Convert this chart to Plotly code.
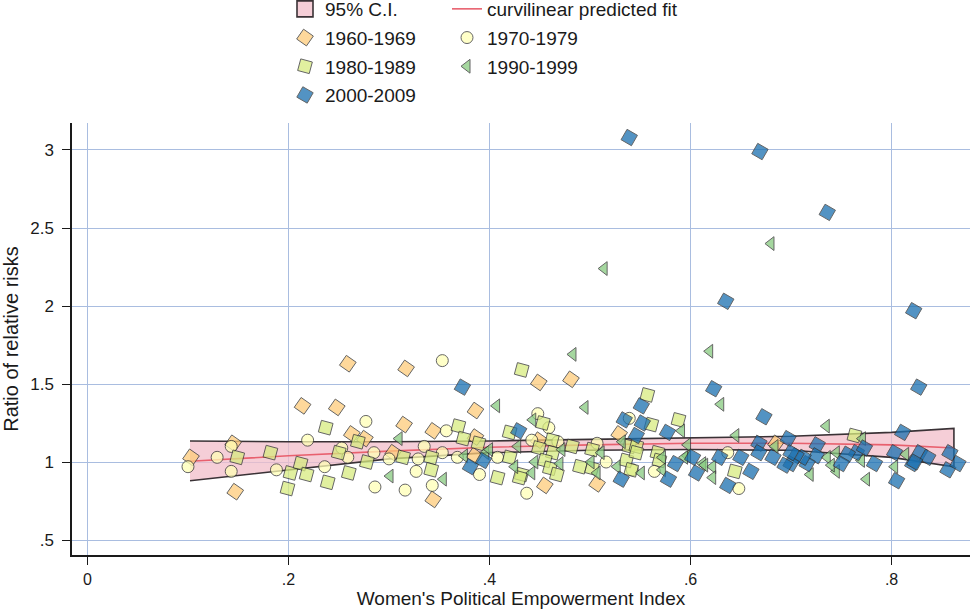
import plotly.graph_objects as go

# ---------------- data ----------------
ci_x = [0.102, 0.2, 0.3, 0.4, 0.5, 0.6, 0.7, 0.8, 0.862]
ci_upper = [1.135, 1.13, 1.13, 1.135, 1.145, 1.155, 1.165, 1.19, 1.215]
ci_lower = [0.88, 0.95, 1.02, 1.06, 1.075, 1.08, 1.075, 1.03, 0.97]
fit_y = [1.005, 1.04, 1.07, 1.095, 1.11, 1.12, 1.12, 1.11, 1.09]

x_1960 = [0.103, 0.145, 0.147, 0.214, 0.248, 0.263, 0.259, 0.317, 0.315, 0.344, 0.386, 0.276,
          0.304, 0.344, 0.386, 0.385, 0.449, 0.481, 0.449, 0.455, 0.507, 0.529, 0.685]
y_1960 = [1.03, 1.12, 0.81, 1.36, 1.35, 1.18, 1.63, 1.60, 1.24, 1.20, 1.33, 1.15,
          1.06, 0.76, 1.16, 1.04, 1.51, 1.53, 1.14, 0.85, 0.86, 1.18, 1.12]

x_1970 = [0.100, 0.129, 0.143, 0.143, 0.188, 0.219, 0.236, 0.277, 0.353, 0.357, 0.253, 0.259,
          0.285, 0.300, 0.286, 0.316, 0.329, 0.327, 0.335, 0.343, 0.353, 0.368, 0.390, 0.408,
          0.448, 0.459, 0.442, 0.468, 0.437, 0.507, 0.516, 0.539, 0.542, 0.648, 0.637, 0.564]
y_1970 = [0.97, 1.03, 1.10, 0.94, 0.95, 1.14, 0.97, 1.26, 1.65, 1.20, 1.09, 1.03,
          1.06, 1.02, 0.84, 0.82, 1.02, 0.94, 1.10, 0.85, 1.06, 1.03, 0.92, 1.03,
          1.31, 1.22, 1.14, 1.13, 0.80, 1.12, 1.00, 1.28, 0.95, 0.83, 1.06, 0.94]

x_1980 = [0.149, 0.182, 0.202, 0.199, 0.212, 0.218, 0.237, 0.239, 0.250, 0.260, 0.269, 0.278,
          0.314, 0.342, 0.342, 0.369, 0.374, 0.389, 0.408, 0.432, 0.453, 0.420, 0.462, 0.449,
          0.463, 0.482, 0.420, 0.432, 0.430, 0.455, 0.460, 0.467, 0.502, 0.490, 0.502, 0.539,
          0.546, 0.557, 0.536, 0.546, 0.588, 0.561, 0.567, 0.569, 0.541, 0.763, 0.644]
y_1980 = [1.03, 1.06, 0.93, 0.83, 0.99, 0.92, 1.22, 0.87, 1.06, 0.93, 1.13, 1.00,
          1.03, 1.03, 0.95, 1.23, 1.15, 1.12, 0.90, 1.59, 1.25, 1.19, 1.14, 1.09,
          1.06, 1.10, 1.03, 0.92, 0.90, 1.01, 0.96, 0.92, 1.08, 0.97, 0.96, 1.10,
          1.10, 1.43, 1.01, 1.06, 1.27, 1.24, 1.06, 1.01, 0.95, 1.17, 0.94]

x_1990 = [0.310, 0.301, 0.354, 0.396, 0.375, 0.407, 0.400, 0.483, 0.495, 0.443, 0.428, 0.472,
          0.425, 0.442, 0.445, 0.470, 0.511, 0.501, 0.507, 0.532, 0.527, 0.551, 0.514, 0.680,
          0.619, 0.630, 0.735, 0.591, 0.645, 0.771, 0.597, 0.803, 0.775, 0.745, 0.736, 0.719,
          0.684, 0.622, 0.597, 0.612, 0.622, 0.614, 0.572, 0.594, 0.572, 0.740, 0.745, 0.770,
          0.814]
y_1990 = [1.15, 0.91, 0.89, 1.06, 1.04, 1.36, 1.08, 1.69, 1.35, 1.27, 1.10, 1.08,
          0.97, 0.93, 1.00, 0.99, 1.06, 1.00, 0.93, 1.13, 0.97, 0.93, 2.24, 2.40,
          1.71, 1.37, 1.23, 1.20, 1.17, 1.15, 1.11, 0.97, 0.89, 0.94, 1.03, 0.92,
          1.10, 0.97, 1.04, 0.99, 0.90, 0.98, 0.95, 1.03, 1.03, 0.98, 1.06, 1.01,
          1.05]

x_2000 = [0.373, 0.381, 0.394, 0.429, 0.534, 0.551, 0.552, 0.546, 0.531, 0.539, 0.669, 0.736,
          0.635, 0.822, 0.623, 0.827, 0.673, 0.577, 0.811, 0.697, 0.668, 0.726, 0.858, 0.803,
          0.828, 0.836, 0.821, 0.856, 0.866, 0.805, 0.783, 0.765, 0.756, 0.750, 0.725, 0.716,
          0.712, 0.705, 0.700, 0.694, 0.682, 0.668, 0.660, 0.650, 0.637, 0.629, 0.606, 0.602,
          0.585, 0.578, 0.700, 0.773, 0.823]
y_2000 = [1.48, 0.97, 1.01, 1.20, 1.27, 1.36, 1.25, 1.17, 0.89, 3.08, 2.99, 2.60,
          2.03, 1.97, 1.47, 1.48, 1.29, 1.19, 1.19, 1.15, 1.12, 1.11, 1.06, 1.06,
          1.06, 1.03, 0.99, 0.95, 0.99, 0.88, 0.99, 1.06, 1.05, 0.99, 1.04, 0.99,
          1.03, 1.04, 0.99, 0.98, 1.03, 1.06, 0.94, 1.03, 0.85, 1.03, 0.93, 1.03,
          0.99, 0.89, 1.06, 1.09, 1.00]

x_ticks = [0, 0.2, 0.4, 0.6, 0.8]
x_tick_labels = ["0", ".2", ".4", ".6", ".8"]
y_ticks = [0.5, 1, 1.5, 2, 2.5, 3]
y_tick_labels = [".5", "1", "1.5", "2", "2.5", "3"]

# ---------------- figure ----------------
FONT = "Liberation Sans, Arial, sans-serif"
EDGE = "#333333"
CI_FILL = "rgba(242,190,202,0.75)"
CI_EDGE = "#3a3236"

fig = go.Figure()

# legend-only entry for the CI band (square swatch)
fig.add_trace(go.Scatter(
    x=[None], y=[None], mode="markers", name="95% C.I.",
    marker=dict(symbol="square", size=19, color=CI_FILL,
                line=dict(color=CI_EDGE, width=1.6)),
    legend="legend", legendgroup="a1"))

fig.add_trace(go.Scatter(
    x=ci_x + ci_x[::-1], y=ci_upper + ci_lower[::-1],
    fill="toself", fillcolor=CI_FILL,
    line=dict(color=CI_EDGE, width=1.6), mode="lines",
    name="95% C.I.", showlegend=False, hoverinfo="skip"))

fig.add_trace(go.Scatter(
    x=ci_x, y=fit_y, mode="lines",
    line=dict(color="#e8606e", width=1.6),
    name="curvilinear predicted fit", legend="legend2", legendgroup="b1"))

series = [
    ("1960-1969", x_1960, y_1960, "square", 35, "#fecc7a", "legend", "a2"),
    ("1970-1979", x_1970, y_1970, "circle", 0, "#ffffb6", "legend2", "b2"),
    ("1980-1989", x_1980, y_1980, "square", 15, "#d7eb80", "legend", "a3"),
    ("1990-1999", x_1990, y_1990, "triangle-left", 0, "#87ca80", "legend2", "b3"),
    ("2000-2009", x_2000, y_2000, "square", 30, "#1a70b0", "legend", "a4"),
]
for name, xs, ys, sym, ang, col, leg, grp in series:
    fig.add_trace(go.Scatter(
        x=xs, y=ys, mode="markers", name=name, legend=leg, legendgroup=grp,
        marker=dict(symbol=sym, angle=ang, size=12, color=col, opacity=0.75,
                    line=dict(color=EDGE, width=1))))

grid = "#a9bde0"
leg_common = dict(xref="paper", yref="paper", xanchor="left", yanchor="top",
                  orientation="v", traceorder="grouped", tracegroupgap=1,
                  font=dict(size=19), bgcolor="rgba(0,0,0,0)")
fig.update_layout(
    width=975, height=611,
    margin=dict(l=72, r=5, t=123, b=56, autoexpand=False),
    paper_bgcolor="white", plot_bgcolor="white",
    font=dict(family=FONT, size=17, color="#1a1a1a"),
    xaxis=dict(range=[-0.0154, 0.878], tickvals=x_ticks, ticktext=x_tick_labels,
               showgrid=True, gridcolor=grid, gridwidth=1.2, zeroline=False,
               showline=True, linecolor="#1a1a1a", linewidth=1.5,
               ticks="outside", ticklen=8, tickcolor="#1a1a1a",
               ticklabelstandoff=1, tickfont=dict(size=16), automargin=False,
               title=dict(text="Women's Political Empowerment Index", standoff=0,
                          font=dict(size=19))),
    yaxis=dict(range=[0.404, 3.173], tickvals=y_ticks, ticktext=y_tick_labels,
               showgrid=True, gridcolor=grid, gridwidth=1.2, zeroline=False,
               showline=True, linecolor="#1a1a1a", linewidth=1.5,
               ticks="outside", ticklen=8, tickcolor="#1a1a1a",
               ticklabelstandoff=5, tickfont=dict(size=17), automargin=False,
               title=dict(text="Ratio of relative risks", standoff=8,
                          font=dict(size=20))),
    legend=dict(x=(285 - 72) / 898, y=1 + 133 / 432, **leg_common),
    legend2=dict(x=(447 - 72) / 898, y=1 + 133 / 432, **leg_common),
    showlegend=True,
)

fig.write_html("out.html")
